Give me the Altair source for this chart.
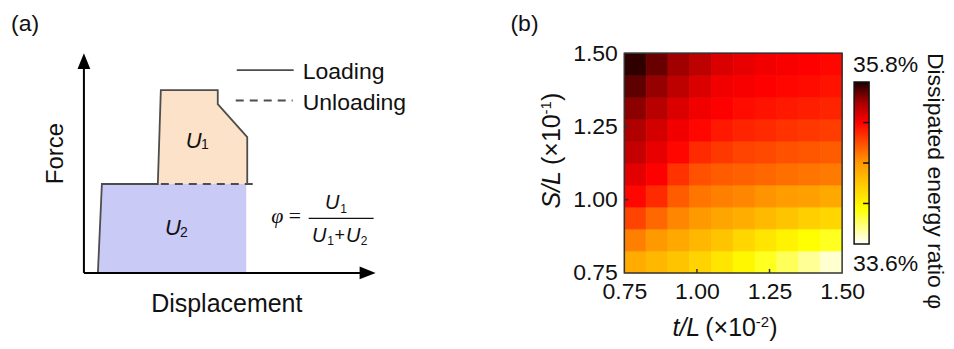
import altair as alt
import pandas as pd

FONT = "Liberation Sans"
INK = "#111111"
CURVE = "#4d4d4d"
U1_FILL = "#fce2c8"
U2_FILL = "#cacaf6"

# ---------------- panel (a): schematic force-displacement curve ----------------
# schematic units (arbitrary): displacement 0-292, force 0-220
loading_d = [14, 18, 74, 77, 134, 134, 163.5, 163.5]
loading_f = [0, 89, 89, 183, 183, 169, 136, 89]
u1_d = [74, 77, 134, 134.2, 163.5]
u1_f = [89, 183, 183, 169, 136]
u2_d = [14, 18, 162.5]
u2_f = [0, 89, 89]
plateau_f = 89
unload_d = [77, 175]

# ---------------- panel (b): dissipated energy ratio map ----------------
t_centers = [0.7875, 0.8625, 0.9375, 1.0125, 1.0875, 1.1625, 1.2375, 1.3125, 1.3875, 1.4625]
s_centers = [0.7875, 0.8625, 0.9375, 1.0125, 1.0875, 1.1625, 1.2375, 1.3125, 1.3875, 1.4625]
# dissipated energy ratio (%), one row per S/L value (bottom to top), columns follow t/L
ratio = [
    [34.59, 34.52, 34.44, 34.35, 34.24, 34.13, 34.02, 33.91, 33.80, 33.69],
    [34.79, 34.70, 34.61, 34.52, 34.44, 34.33, 34.24, 34.15, 34.08, 34.02],
    [35.01, 34.88, 34.77, 34.70, 34.63, 34.57, 34.50, 34.44, 34.37, 34.33],
    [35.23, 35.10, 34.92, 34.83, 34.79, 34.77, 34.72, 34.68, 34.66, 34.61],
    [35.34, 35.25, 35.07, 34.96, 34.92, 34.90, 34.88, 34.85, 34.83, 34.81],
    [35.43, 35.32, 35.23, 35.10, 35.05, 35.01, 34.99, 34.96, 34.94, 34.92],
    [35.49, 35.38, 35.29, 35.23, 35.16, 35.12, 35.10, 35.07, 35.05, 35.03],
    [35.58, 35.47, 35.36, 35.29, 35.25, 35.21, 35.18, 35.16, 35.14, 35.12],
    [35.67, 35.56, 35.45, 35.36, 35.29, 35.27, 35.25, 35.23, 35.21, 35.18],
    [35.76, 35.65, 35.54, 35.45, 35.36, 35.32, 35.29, 35.27, 35.25, 35.23],
]
axis_ticks = [0.75, 1.00, 1.25, 1.50]
inner_ticks = [1.00, 1.25]
cbar_min, cbar_max = 33.6, 35.8
cbar_ticks = [34.15, 34.70, 35.25]
color_stops = [33.6, 34.08, 34.7, 35.25, 35.54, 35.8]
color_hues = ["#ffffff", "#ffff00", "#ff9900", "#ff0000", "#a00000", "#1c0000"]

# ======================= panel (a) =======================
sx = alt.Scale(domain=[0, 292], nice=False, zero=False)
sy = alt.Scale(domain=[0, 220], nice=False, zero=False)


def XA(f):
    return alt.X(f"{f}:Q", scale=sx, axis=None)


def YA(f):
    return alt.Y(f"{f}:Q", scale=sy, axis=None)


def pts(d, f):
    return pd.DataFrame({"d": d, "f": f, "i": list(range(len(d)))})


# invisible corner marker that pins the figure's top-left origin
anchor = alt.Chart(pd.DataFrame({"d": [-83], "d2": [-82], "f": [272], "f2": [271]})).mark_rect(
    opacity=0
).encode(x=XA("d"), x2="d2", y=YA("f"), y2="f2")

u2_area = alt.Chart(pts(u2_d, u2_f)).mark_area(color=U2_FILL, opacity=1).encode(
    x=XA("d"), y=YA("f"), y2=alt.datum(0)
)
u1_area = alt.Chart(pts(u1_d, u1_f)).mark_area(color=U1_FILL, opacity=1).encode(
    x=XA("d"), y=YA("f"), y2=alt.datum(plateau_f)
)
loading = alt.Chart(pts(loading_d, loading_f)).mark_line(color=CURVE, strokeWidth=1.8).encode(
    x=XA("d"), y=YA("f"), order="i:Q"
)
unloading = alt.Chart(pd.DataFrame({"d": [unload_d[0]], "d2": [unload_d[1]], "f": [plateau_f]})).mark_rule(
    color=CURVE, strokeWidth=2, strokeDash=[8, 6]
).encode(x=XA("d"), x2="d2", y=YA("f"))

axes_df = pd.DataFrame({"d": [0, 0], "d2": [0, 278], "f": [0, 0], "f2": [205, 0]})
axes_lines = alt.Chart(axes_df).mark_rule(color="black", strokeWidth=2).encode(
    x=XA("d"), x2="d2", y=YA("f"), y2="f2"
)
arrow_up = alt.Chart(pd.DataFrame({"d": [0], "f": [212]})).mark_point(
    shape="M0,-1L0.8,1L-0.8,1Z", size=256, filled=True, color="black", opacity=1, strokeWidth=0
).encode(x=XA("d"), y=YA("f"))
arrow_right = alt.Chart(pd.DataFrame({"d": [284], "f": [0]})).mark_point(
    shape="M1,0L-1,0.8L-1,-0.8Z", size=256, filled=True, color="black", opacity=1, strokeWidth=0
).encode(x=XA("d"), y=YA("f"))

leg_solid = alt.Chart(pd.DataFrame({"d": [153], "d2": [210], "f": [203]})).mark_rule(
    color=CURVE, strokeWidth=1.8
).encode(x=XA("d"), x2="d2", y=YA("f"))
leg_dash = alt.Chart(pd.DataFrame({"d": [152], "d2": [209], "f": [172.7]})).mark_rule(
    color=CURVE, strokeWidth=2, strokeDash=[8, 6]
).encode(x=XA("d"), x2="d2", y=YA("f"))
leg_text = alt.Chart(pd.DataFrame({"d": [219, 219], "f": [201, 170.5], "t": ["Loading", "Unloading"]})).mark_text(
    align="left", baseline="middle", fontSize=23, color=INK
).encode(x=XA("d"), y=YA("f"), text="t:N")

label_a = alt.Chart(pd.DataFrame({"d": [-73], "f": [242], "t": ["(a)"]})).mark_text(
    align="left", baseline="alphabetic", fontSize=23, color=INK
).encode(x=XA("d"), y=YA("f"), text="t:N")
force_t = alt.Chart(pd.DataFrame({"d": [-21], "f": [119.5], "t": ["Force"]})).mark_text(
    align="center", baseline="alphabetic", fontSize=24, angle=270, color=INK
).encode(x=XA("d"), y=YA("f"), text="t:N")
disp_t = alt.Chart(pd.DataFrame({"d": [143], "f": [-39], "t": ["Displacement"]})).mark_text(
    align="center", baseline="alphabetic", fontSize=25, color=INK
).encode(x=XA("d"), y=YA("f"), text="t:N")

# italic energy symbols (U) and their upright subscripts
u_df = pd.DataFrame({
    "d": [110, 89, 248.5, 235.5, 269.5],
    "f": [132.5, 44.5, 69.5, 37, 37],
    "s": [22, 22, 20, 20, 20],
})
u_sym = alt.Chart(u_df).mark_text(
    align="center", baseline="middle", fontStyle="italic", color=INK
).encode(x=XA("d"), y=YA("f"), size=alt.Size("s:Q", scale=None, legend=None), text=alt.value("U"))
sub_df = pd.DataFrame({
    "d": [121, 100, 260, 247, 280.5, 256],
    "f": [128, 39.5, 64, 32, 32, 37],
    "s": [14, 14, 12, 12, 12, 18],
    "t": ["1", "2", "1", "1", "2", "+"],
})
subs = alt.Chart(sub_df).mark_text(align="center", baseline="middle", color=INK).encode(
    x=XA("d"), y=YA("f"), size=alt.Size("s:Q", scale=None, legend=None), text="t:N"
)
phi_df = pd.DataFrame({"d": [193.5, 211], "f": [57, 57], "t": ["φ", "="]})
phi_eq = alt.Chart(phi_df).mark_text(
    align="center", baseline="middle", font="Liberation Serif", fontStyle="italic", fontSize=22, color=INK
).encode(x=XA("d"), y=YA("f"), text="t:N")
frac_bar = alt.Chart(pd.DataFrame({"d": [225], "d2": [290], "f": [54.5]})).mark_rule(
    color=INK, strokeWidth=1.2
).encode(x=XA("d"), x2="d2", y=YA("f"))

panel_a = alt.layer(
    anchor, u2_area, u1_area, unloading, loading, axes_lines, arrow_up, arrow_right,
    leg_solid, leg_dash, leg_text, label_a, force_t, disp_t, u_sym, subs, phi_eq, frac_bar,
).properties(width=292, height=220)

# ======================= panel (b) =======================
half = 0.0375
cells = []
for j, s in enumerate(s_centers):
    for i, t in enumerate(t_centers):
        cells.append({"t0": t - half, "t1": t + half, "s0": s - half, "s1": s + half, "phi": ratio[j][i]})
cells = pd.DataFrame(cells)

xs = alt.Scale(domain=[0.75, 1.5], nice=False, zero=False)
ys = alt.Scale(domain=[0.75, 1.5], nice=False, zero=False)
cscale = alt.Scale(domain=color_stops, range=color_hues, interpolate="rgb")

x_axis = alt.Axis(
    values=axis_ticks, format=".2f", ticks=False, domain=False, grid=False,
    labelFontSize=23, labelPadding=8, labelFlush=False, labelOverlap=False, title=None,
)
y_axis = alt.Axis(
    values=axis_ticks, format=".2f", ticks=False, domain=False, grid=False,
    labelFontSize=23, labelPadding=7, labelFlush=False, labelOverlap=False, title=None,
)

heat = alt.Chart(cells).mark_rect(strokeWidth=0.8).encode(
    x=alt.X("t0:Q", scale=xs, axis=x_axis),
    x2="t1",
    y=alt.Y("s0:Q", scale=ys, axis=y_axis),
    y2="s1",
    color=alt.Color("phi:Q", scale=cscale, legend=None),
    stroke=alt.Stroke("phi:Q", scale=cscale, legend=None),
)

frame = alt.Chart(pd.DataFrame({"a": [0.75], "b": [1.5]})).mark_rect(
    fill="transparent", stroke="#333333", strokeWidth=1.5
).encode(
    x=alt.X("a:Q", scale=xs, axis=x_axis), x2="b",
    y=alt.Y("a:Q", scale=ys, axis=None), y2="b",
)
ticks_bottom = alt.Chart(pd.DataFrame({"v": inner_ticks})).mark_rule(color="#333333", strokeWidth=1.5).encode(
    x=alt.X("v:Q", scale=xs, axis=x_axis), y=alt.value(220), y2=alt.value(216)
)
ticks_left = alt.Chart(pd.DataFrame({"v": inner_ticks})).mark_rule(color="#333333", strokeWidth=1.5).encode(
    y=alt.Y("v:Q", scale=ys, axis=None), x=alt.value(0), x2=alt.value(4)
)

one = pd.DataFrame({"k": [0]})


def label(text, x, y, **kw):
    return alt.Chart(one).mark_text(color=INK, **kw).encode(
        x=alt.value(x), y=alt.value(y), text=alt.value(text)
    )


label_b = label("(b)", -114, -22, align="left", baseline="alphabetic", fontSize=23)

# axis titles: italic ratio, upright multiplier with a raised exponent
ytitle = [
    label("S/L", -72, 118, align="right", baseline="middle", angle=270, fontSize=25, fontStyle="italic"),
    label("(×10", -72, 112, align="left", baseline="middle", angle=270, fontSize=25),
    label("-1", -78, 61.5, align="left", baseline="middle", angle=270, fontSize=15),
    label(")", -72, 48, align="left", baseline="middle", angle=270, fontSize=25),
]
xtitle = [
    label("t/L", 76, 275, align="right", baseline="middle", fontSize=25, fontStyle="italic"),
    label("(×10", 81, 275, align="left", baseline="middle", fontSize=25),
    label("-2", 131.5, 269, align="left", baseline="middle", fontSize=15),
    label(")", 145, 275, align="left", baseline="middle", fontSize=25),
]

# colour bar on its own value axis, placed to the right of the map
pad = (cbar_max - cbar_min) * 29 / 162
cbs = alt.Scale(domain=[cbar_min - pad, cbar_max + pad], nice=False, zero=False)
span = cbar_max - cbar_min
gradient = alt.LinearGradient(
    gradient="linear", x1=0, y1=1, x2=0, y2=0,
    stops=[alt.GradientStop(color=c, offset=(v - cbar_min) / span) for v, c in zip(color_stops, color_hues)],
)
cbar = alt.Chart(pd.DataFrame({"lo": [cbar_min], "hi": [cbar_max]})).mark_rect(
    fill=gradient, stroke="#111111", strokeWidth=1.5
).encode(y=alt.Y("lo:Q", scale=cbs, axis=None), y2="hi", x=alt.value(230), x2=alt.value(245))
cbar_tk = alt.Chart(pd.DataFrame({"v": cbar_ticks})).mark_rule(color="#111111", strokeWidth=1.5).encode(
    y=alt.Y("v:Q", scale=cbs, axis=None), x=alt.value(239), x2=alt.value(245)
)
cbar_top = alt.Chart(pd.DataFrame({"v": [cbar_max], "t": [f"{cbar_max}%"]})).mark_text(
    align="left", baseline="middle", fontSize=23, dy=-17.5, color=INK
).encode(y=alt.Y("v:Q", scale=cbs, axis=None), x=alt.value(229), text="t:N")
cbar_bot = alt.Chart(pd.DataFrame({"v": [cbar_min], "t": [f"{cbar_min}%"]})).mark_text(
    align="left", baseline="middle", fontSize=23, dy=20, color=INK
).encode(y=alt.Y("v:Q", scale=cbs, axis=None), x=alt.value(229), text="t:N")
cbar_title = label("Dissipated energy ratio φ", 311, 128, align="center", baseline="middle", angle=90, fontSize=23)

# invisible corner marker that pins the figure's bottom-right extent
corner = alt.Chart(one).mark_rect(opacity=0).encode(
    x=alt.value(328), x2=alt.value(329), y=alt.value(295), y2=alt.value(296)
)

panel_b = alt.layer(
    heat, frame, ticks_bottom, ticks_left, label_b, *ytitle, *xtitle,
    cbar, cbar_tk, cbar_top, cbar_bot, cbar_title, corner,
).resolve_scale(y="independent").properties(width=218, height=220)

chart = alt.hconcat(panel_a, panel_b, spacing=249, bounds="flush").resolve_scale(
    x="independent", y="independent", color="independent"
).properties(
    padding=0, autosize=alt.AutoSizeParams(type="pad")
).configure(font=FONT).configure_view(stroke="transparent").configure_axis(
    labelFont=FONT, labelColor=INK
)

chart.save("out.html", embed_options={"renderer": "svg", "actions": False})
